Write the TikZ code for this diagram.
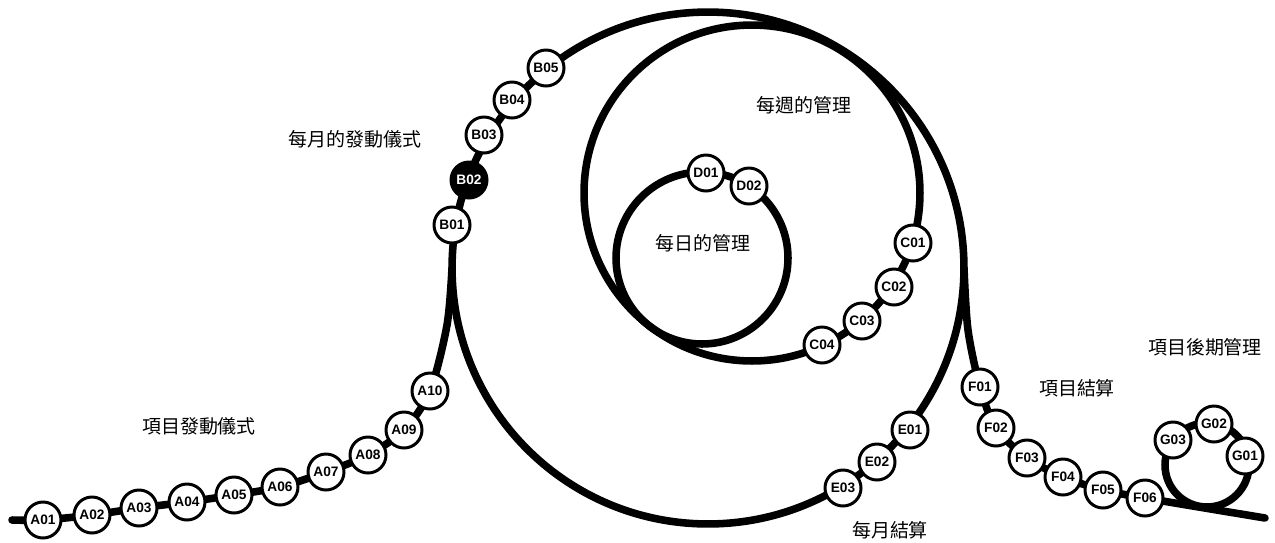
\documentclass[tikz,border=0pt]{standalone}
\usepackage{fontspec}
\setsansfont{Liberation Sans}
\newfontfamily\cjkfont{Noto Sans CJK TC}
\usetikzlibrary{backgrounds}
\begin{document}
\begin{tikzpicture}[x=0.02cm, y=-0.02cm,
  track/.style={line width=4.3pt, line cap=round},
  stop/.style={circle, draw, line width=1.7pt, fill=white, minimum size=0.72cm, inner sep=0pt,
    font=\sffamily\bfseries\fontsize{7.8}{8}\selectfont},
  busy/.style={stop, fill=black, text=white},
  phase/.style={font=\cjkfont\fontsize{10.8}{13}\selectfont}]

  \useasboundingbox (0,0) rectangle (1275,542);

  % Centres and track ends
  \coordinate (monthC) at (708,268);
  \coordinate (weekC) at (752,193);
  \coordinate (dayC) at (702,258);
  \coordinate (laterC) at (1207,465);
  \coordinate (startA) at (12,520);
  \coordinate (switchL) at (452,268);
  \coordinate (switchR) at (964,268);
  \coordinate (endF) at (1265,518);

  % Stops: launch
  \node[stop] (A01) at (43,520) {A01};
  \node[stop] (A02) at (92,515) {A02};
  \node[stop] (A03) at (139,508) {A03};
  \node[stop] (A04) at (187,502) {A04};
  \node[stop] (A05) at (234,495) {A05};
  \node[stop] (A06) at (280,487) {A06};
  \node[stop] (A07) at (326,472) {A07};
  \node[stop] (A08) at (368,455) {A08};
  \node[stop] (A09) at (404,430) {A09};
  \node[stop] (A10) at (430,391) {A10};

  % Stops: monthly kick-off
  \node[stop] (B01) at (452,225) {B01};
  \node[busy] (B02) at (469,180) {B02};
  \node[stop] (B03) at (484,135) {B03};
  \node[stop] (B04) at (512,100) {B04};
  \node[stop] (B05) at (546,68) {B05};

  % Stops: weekly and daily
  \node[stop] (C01) at (913,243) {C01};
  \node[stop] (C02) at (894,287) {C02};
  \node[stop] (C03) at (862,321) {C03};
  \node[stop] (C04) at (822,345) {C04};
  \node[stop] (D01) at (706,173) {D01};
  \node[stop] (D02) at (749,186) {D02};

  % Stops: monthly close
  \node[stop] (E01) at (910,430) {E01};
  \node[stop] (E02) at (877,462) {E02};
  \node[stop] (E03) at (843,488) {E03};

  % Stops: project close
  \node[stop] (F01) at (980,387) {F01};
  \node[stop] (F02) at (996,428) {F02};
  \node[stop] (F03) at (1027,458) {F03};
  \node[stop] (F04) at (1063,477) {F04};
  \node[stop] (F05) at (1103,490) {F05};
  \node[stop] (F06) at (1145,498) {F06};

  % Stops: after the project
  \node[stop] (G01) at (1245,456) {G01};
  \node[stop] (G02) at (1214,424) {G02};
  \node[stop] (G03) at (1173,440) {G03};

  % Labels
  \node[phase] (launch) at (199,426) {項目發動儀式};
  \node[phase] (kickoff) at (355,139) {每月的發動儀式};
  \node[phase] (weekly) at (804,105) {每週的管理};
  \node[phase] (daily) at (703,243) {每日的管理};
  \node[phase] (later) at (1205,347) {項目後期管理};
  \node[phase] (close) at (1077,388) {項目結算};
  \node[phase] (monthly) at (890,530) {每月結算};

  % Tracks
  \begin{scope}[on background layer]
    \draw[track] plot[smooth] coordinates {(startA) (A01.center) (A02.center) (A03.center)
      (A04.center) (A05.center) (A06.center) (A07.center) (A08.center) (A09.center)
      (A10.center) (447,325) (switchL)};
    \draw[track] (monthC) circle[radius=5.12cm];
    \draw[track] (weekC) circle[radius=3.36cm];
    \draw[track] (dayC) circle[radius=1.72cm];
    \draw[track] plot[smooth] coordinates {(switchR) (968,330) (F01.center) (F02.center)
      (F03.center) (F04.center) (F05.center) (F06.center) (endF)};
    \draw[track] (laterC) circle[radius=0.84cm];
  \end{scope}
\end{tikzpicture}
\end{document}
